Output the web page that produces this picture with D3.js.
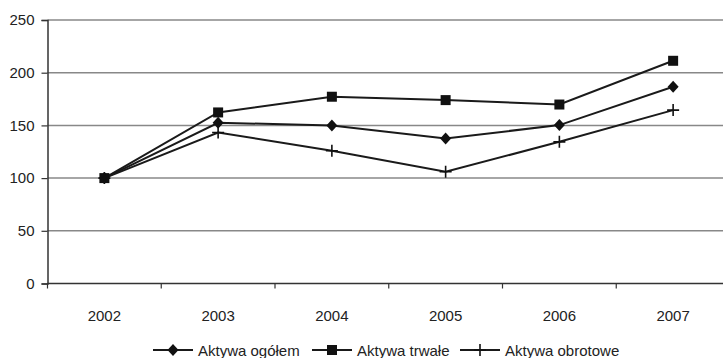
<!DOCTYPE html>
<html><head><meta charset="utf-8">
<script src="https://cdn.jsdelivr.net/npm/d3@7"></script>
<style>body{margin:0;background:#fff}svg{display:block;font-family:"Liberation Sans",Arial,sans-serif}</style>
</head><body><svg id="c" width="723" height="358"></svg>
<script>
const years = ["2002","2003","2004","2005","2006","2007"];
const ogolem = [100, 152.5, 150, 137.6, 150.3, 186.7];
const trwale = [100, 162.3, 177.2, 174, 169.8, 211.3];
const obrotowe = [100, 143.3, 125.9, 106, 134.4, 164.5];
const yTicks = [0, 50, 100, 150, 200, 250];
const seriesNames = ["Aktywa ogółem", "Aktywa trwałe", "Aktywa obrotowe"];

const svg = d3.select("#c");
const x = d3.scaleBand().domain(years).range([47.5, 730]);
const y = d3.scaleLinear().domain([0, 250]).range([283.5, 20]);
const textCol = "#222";

// gridlines
svg.append("g").selectAll("line").data(yTicks.filter(d => d > 0)).join("line")
  .attr("x1", 47.5).attr("x2", 723).attr("y1", d => y(d)).attr("y2", d => y(d))
  .attr("stroke", "#888").attr("stroke-width", 1.5);

// y axis
const ya = svg.append("g").attr("transform", "translate(47.5,0)")
  .call(d3.axisLeft(y).tickValues(yTicks).tickSize(6).tickPadding(7).tickFormat(d3.format("d")));
ya.select(".domain").attr("stroke", "#333").attr("stroke-width", 1.5);
ya.selectAll(".tick line").attr("stroke", "#333").attr("stroke-width", 1.2);
ya.selectAll("text").attr("font-size", 15).attr("fill", textCol).attr("font-family", "Liberation Sans, Arial, sans-serif");

// x axis
svg.append("line").attr("x1", 47.5).attr("x2", 723).attr("y1", y(0)).attr("y2", y(0))
  .attr("stroke", "#333").attr("stroke-width", 1.5);
const bounds = years.map(d => x(d));
svg.append("g").selectAll("line").data(bounds).join("line")
  .attr("x1", d => d).attr("x2", d => d).attr("y1", y(0)).attr("y2", y(0) + 5)
  .attr("stroke", "#333").attr("stroke-width", 1.2);
svg.append("g").selectAll("text").data(years).join("text")
  .attr("x", d => x(d) + x.bandwidth() / 2).attr("y", 321)
  .attr("text-anchor", "middle").attr("font-size", 15).attr("fill", textCol).text(d => d);

const cx = d => x(d) + x.bandwidth() / 2;
const line = d3.line().x((v, i) => cx(years[i])).y(v => y(v));

const sym = {
  diamond: (g, px, py) => g.append("path").attr("d", `M${px},${py-6}L${px+5.5},${py}L${px},${py+6}L${px-5.5},${py}Z`).attr("fill", "#111"),
  square: (g, px, py) => g.append("rect").attr("x", px-5).attr("y", py-5).attr("width", 10).attr("height", 10).attr("fill", "#111"),
  plus: (g, px, py) => g.append("path").attr("d", `M${px-6},${py}H${px+6}M${px},${py-6}V${py+6}`).attr("stroke", "#111").attr("stroke-width", 1.6).attr("fill", "none")
};

const series = [
  {name: seriesNames[0], values: ogolem, m: "diamond"},
  {name: seriesNames[1], values: trwale, m: "square"},
  {name: seriesNames[2], values: obrotowe, m: "plus"}
];

series.forEach(s => {
  svg.append("path").attr("d", line(s.values)).attr("fill", "none").attr("stroke", "#1a1a1a").attr("stroke-width", 2);
});
series.forEach(s => {
  const g = svg.append("g");
  s.values.forEach((v, i) => sym[s.m](g, cx(years[i]), y(v)));
});

// legend
const legX = [153, 312, 460];
series.forEach((s, i) => {
  const g = svg.append("g");
  const lx = legX[i], ly = 350;
  g.append("line").attr("x1", lx).attr("x2", lx + 40).attr("y1", ly).attr("y2", ly).attr("stroke", "#1a1a1a").attr("stroke-width", 2);
  sym[s.m](g, lx + 20, ly);
  g.append("text").attr("x", lx + 45).attr("y", ly + 5.5).attr("font-size", 15).attr("fill", textCol).text(s.name);
});
</script></body></html>
